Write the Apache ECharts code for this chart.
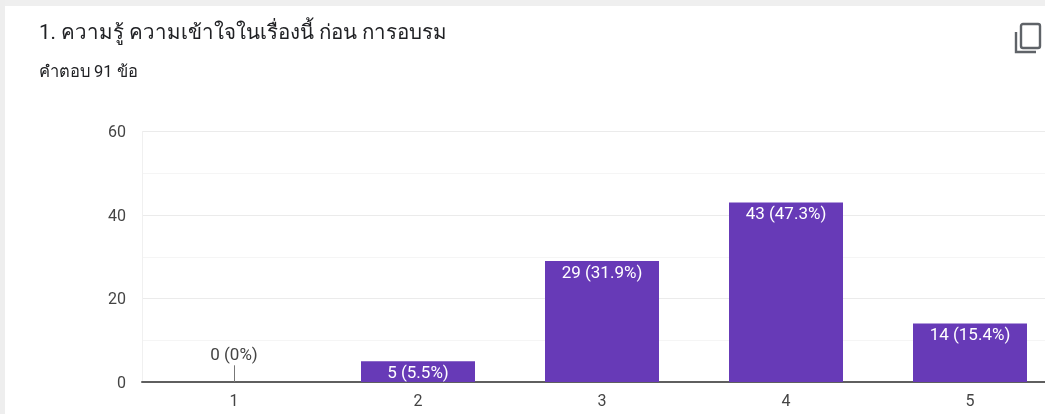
<!DOCTYPE html>
<html><head><meta charset="utf-8">
<style>html,body{margin:0;padding:0;background:#fff}#c{width:1045px;height:414px}</style>
<script src="https://cdn.jsdelivr.net/npm/echarts@6/dist/echarts.min.js"></script>
</head><body><div id="c"></div>
<script>
const titleText = '1. ความรู้ ความเข้าใจในเรื่องนี้ ก่อน การอบรม';
const subtitleText = 'คำตอบ 91 ข้อ';
const categories = ['1','2','3','4','5'];
const counts = [0,5,29,43,14];
const percents = ['0%','5.5%','31.9%','47.3%','15.4%'];
const yTicks = {min:0,max:60,interval:20};
const FONT = 'Roboto, "Noto Sans", sans-serif';
const PURPLE = '#673ab7';
const chart = echarts.init(document.getElementById('c'),null,{renderer:'canvas'});
const labelOf = i => counts[i]+' ('+percents[i]+')';
chart.setOption({
  animation:false,
  backgroundColor:'#fff',
  graphic:[
    {type:'rect',z:0,shape:{x:0,y:0,width:1045,height:6},style:{fill:'#efefef'}},
    {type:'rect',z:0,shape:{x:0,y:0,width:5,height:414},style:{fill:'#eeeeee'}},
    {type:'group',x:1015,y:22,children:[
      {type:'polyline',shape:{points:[[1,10],[1,30],[21,30]]},style:{fill:'none',stroke:'#5f6368',lineWidth:2.4}},
      {type:'rect',shape:{x:6,y:2,width:19,height:24,r:2},style:{fill:'none',stroke:'#5f6368',lineWidth:2.4}}
    ]}
  ],
  title:[
    {text:titleText,left:33,top:23,padding:[0,0,0,6],textStyle:{fontFamily:FONT,fontSize:20.5,fontWeight:'normal',color:'#202124'}},
    {text:subtitleText,left:33,top:64,padding:[0,0,0,6],textStyle:{fontFamily:FONT,fontSize:16.5,fontWeight:'normal',color:'#202124'}}
  ],
  grid:{left:142,width:920,top:131.5,height:250.5,outerBoundsMode:'none',containLabel:false},
  xAxis:{type:'category',data:categories,
    axisLine:{lineStyle:{color:'#5f5f5f',width:2}},
    axisTick:{show:false},
    axisLabel:{margin:12,fontFamily:FONT,fontSize:16,color:'#444'}},
  yAxis:{type:'value',min:yTicks.min,max:yTicks.max,interval:yTicks.interval,
    axisLine:{show:true,lineStyle:{color:'#f0f0f0',width:1}},axisTick:{show:false},
    axisLabel:{margin:16,verticalAlign:'top',lineHeight:3,fontFamily:FONT,fontSize:16,color:'#444'},
    splitLine:{lineStyle:{color:'#ebebeb',width:1}},
    minorTick:{show:false,splitNumber:2},
    minorSplitLine:{show:true,lineStyle:{color:'#f5f5f5',width:1}}},
  series:[{
    type:'bar',barWidth:114,
    data:counts,
    itemStyle:{color:PURPLE},
    label:{show:true,position:'insideTop',distance:4,fontFamily:FONT,fontSize:17,color:'#fff',
      formatter:p=>p.value>0?labelOf(p.dataIndex):''},
    markLine:{silent:true,symbol:'none',animation:false,
      lineStyle:{color:'#777',width:1,type:'solid'},
      label:{show:true,position:'end',distance:1,fontFamily:FONT,fontSize:17,color:'#444',formatter:()=>labelOf(0)},
      data:[[{xAxis:categories[0],yAxis:counts[0]},{xAxis:categories[0],yAxis:4}]]}
  }]
});
</script></body></html>
